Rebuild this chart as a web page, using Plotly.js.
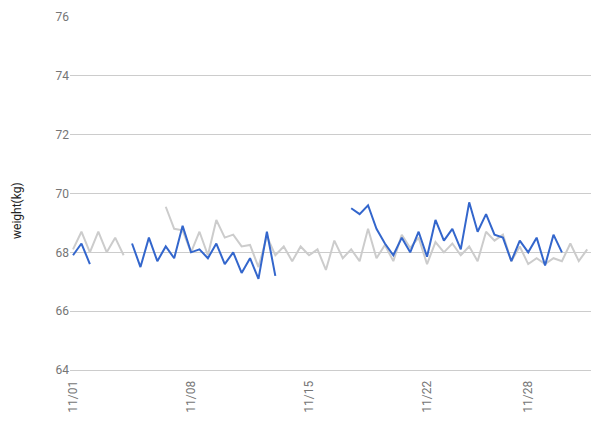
<!DOCTYPE html>
<html>
<head>
<meta charset="utf-8">
<script src="https://cdn.plot.ly/plotly-3.0.1.min.js"></script>
<style>
html,body{margin:0;padding:0;background:#fff;}
#chart{width:601px;height:424px;}
</style>
</head>
<body>
<div id="chart"></div>
<script>
// Measurements twice a day (00:00 and 12:00), starting 2017-11-01
var startDate = "2017-11-01";
var readingsPerDay = 2;

var blueWeights = [
  67.9, 68.3, 67.6, null, null, null, null, 68.3, 67.5, 68.5,
  67.7, 68.2, 67.8, 68.9, 68.0, 68.1, 67.8, 68.3, 67.6, 68.0,
  67.3, 67.8, 67.1, 68.7, 67.2, null, null, null, null, null,
  null, null, null, 69.5, 69.3, 69.6, 68.8, 68.3, 67.9, 68.5,
  68.0, 68.7, 67.85, 69.1, 68.4, 68.8, 68.1, 69.7, 68.7, 69.3,
  68.6, 68.5, 67.7, 68.4, 68.0, 68.5, 67.55, 68.6, 68.0, null,
  null, null
];

var grayWeights = [
  68.1, 68.7, 68.0, 68.7, 68.0, 68.5, 67.9, null, null, null,
  null, 69.55, 68.8, 68.75, 68.0, 68.7, 67.9, 69.1, 68.5, 68.6,
  68.2, 68.25, 67.5, 68.55, 67.9, 68.2, 67.7, 68.2, 67.9, 68.1,
  67.4, 68.4, 67.8, 68.1, 67.7, 68.8, 67.8, 68.25, 67.7, 68.6,
  68.15, 68.5, 67.6, 68.35, 68.0, 68.3, 67.9, 68.2, 67.7, 68.7,
  68.4, 68.6, 67.7, 68.2, 67.6, 67.8, 67.6, 67.8, 67.7, 68.3,
  67.7, 68.1
];

var tickDates = ["2017-11-01", "2017-11-08", "2017-11-15", "2017-11-22", "2017-11-28"];
var tickLabels = ["11/01", "11/08", "11/15", "11/22", "11/28"];
var yTitle = "weight(kg)";

var t0 = new Date(startDate + "T00:00:00Z").getTime();
var step = 86400000 / readingsPerDay;
function ts(ms){ return new Date(ms).toISOString().replace("T"," ").slice(0,19); }
var dates = [];
for (var i = 0; i < grayWeights.length; i++) dates.push(ts(t0 + i * step));

var traces = [
  {x: dates, y: grayWeights, type: "scatter", mode: "lines", name: "B",
   line: {color: "#cccccc", width: 2}, connectgaps: false, hoverinfo: "x+y"},
  {x: dates, y: blueWeights, type: "scatter", mode: "lines", name: "A",
   line: {color: "#3366cc", width: 2}, connectgaps: false, hoverinfo: "x+y"}
];

var layout = {
  width: 601, height: 424,
  margin: {l: 70, r: 10, t: 17, b: 54},
  paper_bgcolor: "#ffffff", plot_bgcolor: "#ffffff",
  showlegend: false,
  font: {family: "Roboto, Arial, sans-serif", size: 12, color: "#757575"},
  xaxis: {
    type: "date",
    range: [ts(t0 - 0.36 * step), ts(t0 + 61.45 * step)],
    tickmode: "array", tickvals: tickDates, ticktext: tickLabels,
    tickangle: -90, showgrid: false, zeroline: false,
    showline: true, linecolor: "#cccccc", linewidth: 1,
    ticks: "", ticklen: 0, ticklabelstandoff: 5,
    tickfont: {family: "Roboto, Arial, sans-serif", size: 12, color: "#757575"}
  },
  yaxis: {
    range: [64, 76],
    tickvals: [64, 66, 68, 70, 72, 74, 76],
    showgrid: true, gridcolor: "#cccccc", gridwidth: 1,
    zeroline: false, showline: false, ticks: "",
    tickfont: {family: "Roboto, Arial, sans-serif", size: 12, color: "#757575"}
  },
  annotations: [{
    text: yTitle, xref: "paper", yref: "paper",
    x: -0.102, y: 0.453, xanchor: "center", yanchor: "middle",
    textangle: -90, showarrow: false,
    font: {family: "Roboto, Arial, sans-serif", size: 12, color: "#222222"}
  }]
};

Plotly.newPlot("chart", traces, layout, {displayModeBar: false, staticPlot: true});
</script>
</body>
</html>
